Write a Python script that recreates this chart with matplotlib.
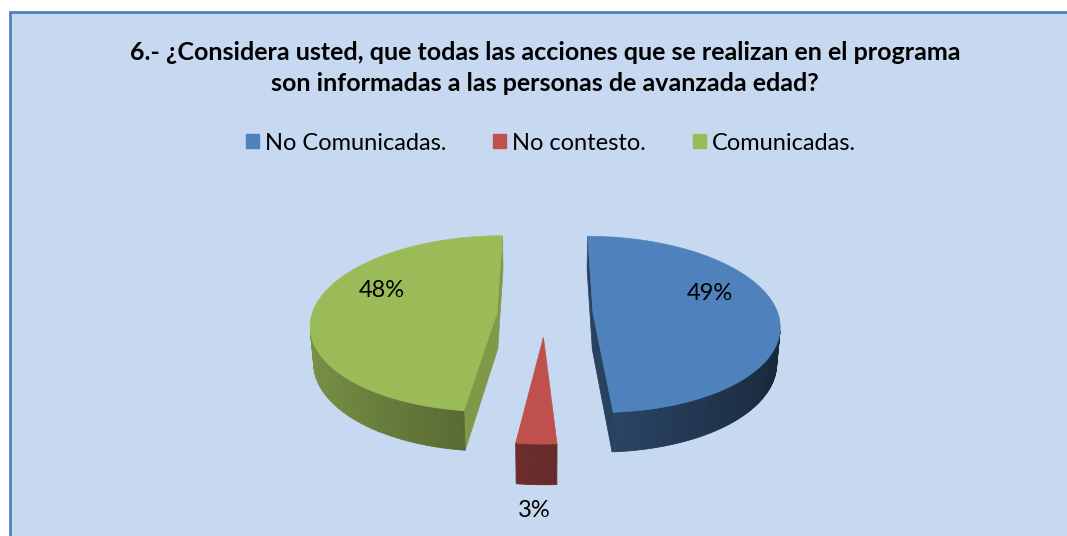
import numpy as np
import matplotlib
matplotlib.use("Agg")
import matplotlib.pyplot as plt
from matplotlib.patches import Polygon, Rectangle, Patch

title = ("6.- ¿Considera usted, que todas las acciones que se realizan en el programa\n"
         "son informadas a las personas de avanzada edad?")
labels = ["No Comunicadas.", "No contesto.", "Comunicadas."]
values = [49, 3, 48]
colors = ["#4f81bd", "#c0504d", "#9bbb59"]

# view / layout settings (pixels of the 1067x536 canvas)
W, H = 1067, 536
ELEV = np.radians(28)
DIST = 7.0
EXPLODE = 0.26
DEPTH = 0.225
SCALE = 185
CX, CY = 545, 314
CAM = DIST * np.array([0.0, -np.cos(ELEV), np.sin(ELEV)])


def project(X, Y, Z):
    w = -Y * np.cos(ELEV) + Z * np.sin(ELEV)
    v = Y * np.sin(ELEV) + Z * np.cos(ELEV)
    k = DIST / (DIST - w)
    return CX + SCALE * X * k, CY - SCALE * v * k


def visible(point, normal):
    return np.dot(CAM - np.asarray(point), np.asarray(normal)) > 0


def shade(color, f):
    rgb = np.array(matplotlib.colors.to_rgb(color))
    return tuple(np.clip(rgb * f, 0, 1))


def draw_slice(ax, a0, a1, color):
    mid = (a0 + a1) / 2
    ox, oy = EXPLODE * np.sin(mid), EXPLODE * np.cos(mid)
    t = np.linspace(a0, a1, max(int(np.degrees(a1 - a0)), 2) + 1)
    rx, ry = ox + np.sin(t), oy + np.cos(t)

    # radial walls
    for a, n in [(a0, (-np.cos(a0), np.sin(a0), 0)), (a1, (np.cos(a1), -np.sin(a1), 0))]:
        px, py = ox + 0.5 * np.sin(a), oy + 0.5 * np.cos(a)
        if visible((px, py, -DEPTH / 2), n):
            X = [ox, ox + np.sin(a), ox + np.sin(a), ox]
            Y = [oy, oy + np.cos(a), oy + np.cos(a), oy]
            Z = [0, 0, -DEPTH, -DEPTH]
            sx, sy = project(np.array(X), np.array(Y), np.array(Z))
            c = shade(color, 0.66 + 0.16 * n[0])
            ax.add_patch(Polygon(np.column_stack([sx, sy]), closed=True,
                                 facecolor=c, edgecolor=c, lw=0.5))

    # outer curved wall
    for j in range(len(t) - 1):
        tm = (t[j] + t[j + 1]) / 2
        n = (np.sin(tm), np.cos(tm), 0)
        if not visible((ox + n[0], oy + n[1], -DEPTH / 2), n):
            continue
        X = np.array([rx[j], rx[j + 1], rx[j + 1], rx[j]])
        Y = np.array([ry[j], ry[j + 1], ry[j + 1], ry[j]])
        Z = np.array([0, 0, -DEPTH, -DEPTH])
        sx, sy = project(X, Y, Z)
        c = shade(color, 0.54 - 0.24 * n[0])
        ax.add_patch(Polygon(np.column_stack([sx, sy]), closed=True,
                             facecolor=c, edgecolor=c, lw=0.6))

    # top face
    sx, sy = project(np.r_[ox, rx], np.r_[oy, ry], np.zeros(len(rx) + 1))
    ax.add_patch(Polygon(np.column_stack([sx, sy]), closed=True,
                         facecolor=color, edgecolor=color, lw=0.5))
    return mid, ox, oy


fig = plt.figure(figsize=(W / 100, H / 100), dpi=100)
ax = fig.add_axes([0, 0, 1, 1])
ax.set_xlim(0, W)
ax.set_ylim(H, 0)
ax.axis("off")

ax.add_patch(Rectangle((10, 12), W + 20, H + 20, facecolor="#c6d9f0",
                       edgecolor="#4f81bd", lw=2))

fracs = np.array(values) / sum(values)
ends = np.cumsum(fracs) * 2 * np.pi
starts = ends - fracs * 2 * np.pi

slices = list(zip(starts, ends, colors, values))
# back slices first
slices.sort(key=lambda s: np.cos((s[0] + s[1]) / 2), reverse=True)
for a0, a1, color, val in slices:
    mid, ox, oy = draw_slice(ax, a0, a1, color)
    if a1 - a0 > np.pi / 2:
        la = mid - np.radians(18) * np.sign(np.sin(mid))
        lx, ly = project(ox + 0.7 * np.sin(la), oy + 0.7 * np.cos(la), 0)
    else:
        lx, ly = project(ox + 1.2 * np.sin(mid), oy + 1.2 * np.cos(mid), -DEPTH)
    ax.text(lx, ly, f"{val}%", ha="center", va="center", fontsize=17,
            family="Lato", color="black")

ax.text(545, 68, title, ha="center", va="center", fontsize=18,
        fontweight="bold", family="Lato", linespacing=1.45)

handles = [Patch(facecolor=c, edgecolor=c) for c in colors]
ax.legend(handles, labels, loc="center", bbox_to_anchor=(551 / W, 1 - 143 / H),
          bbox_transform=fig.transFigure, ncol=3, frameon=False,
          handlelength=0.55, handleheight=0.55, handletextpad=0.25,
          columnspacing=2.0, prop={"family": "Lato", "size": 17})

fig.savefig("out.png", dpi=100)
